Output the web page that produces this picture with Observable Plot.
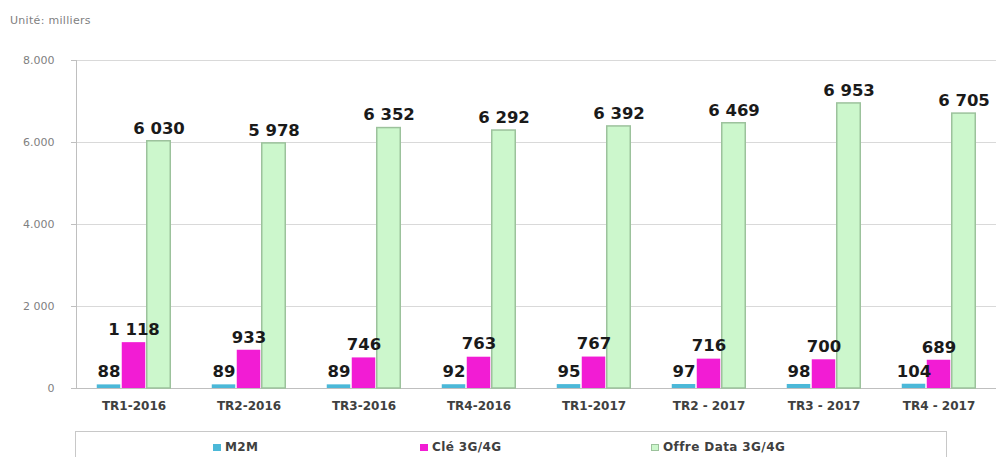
<!DOCTYPE html>
<html><head><meta charset="utf-8">
<script src="https://cdn.jsdelivr.net/npm/d3@7"></script>
<script src="https://cdn.jsdelivr.net/npm/@observablehq/plot@0.6"></script>
<style>
body{margin:0;background:#fff;font-family:"DejaVu Sans",Verdana,sans-serif;}
#title{height:40px;box-sizing:border-box;padding:14px 0 0 10px;font-size:11px;color:#7f7f7f;letter-spacing:0.3px;}
#chart svg{display:block;}
#legend{position:relative;margin:6px 0 0 75px;width:872px;height:40px;border:1px solid #c8c8c8;border-bottom:none;box-sizing:border-box;}
.item{position:absolute;top:8px;font-size:12px;font-weight:bold;color:#404040;display:flex;align-items:center;letter-spacing:0.4px;}
.sw{width:8px;height:7px;margin-right:4px;box-sizing:border-box;}
</style></head>
<body>
<div id="title">Unité: milliers</div>
<div id="chart"></div>
<div id="legend"></div>
<script>
const categories = ["TR1-2016","TR2-2016","TR3-2016","TR4-2016","TR1-2017","TR2 - 2017","TR3 - 2017","TR4 - 2017"];
const seriesNames = ["M2M","Clé 3G/4G","Offre Data 3G/4G"];
const m2m = [88,89,89,92,95,97,98,104];
const cle = [1118,933,746,763,767,716,700,689];
const offre = [6030,5978,6352,6292,6392,6469,6953,6705];
const yTicks = [0,2000,4000,6000,8000];
const yTickLabels = ["0","2 000","4.000","6.000","8.000"];
const fills = ["#4bb8d8","#f21cd4","#ccf7cc"];
const strokes = ["none","none","#9cc29c"];

const seriesValues = [m2m, cle, offre];
const rows = [];
seriesNames.forEach((s, i) => categories.forEach((c, j) => rows.push({cat: c, series: s, value: seriesValues[i][j]})));
const fmt = d3.formatLocale({thousands: " ", grouping: [3], decimal: ","}).format(",d");

const marks = [
  Plot.gridY(yTicks.filter(d => d > 0), {stroke: "#d9d9d9", strokeOpacity: 1}),
  Plot.ruleY([0], {stroke: "#bfbfbf"}),
  Plot.frame({anchor: "left", fx: [categories[0]], stroke: "#bfbfbf"}),
  ...seriesNames.map((s, i) => Plot.barY(rows.filter(r => r.series === s), {
    fx: "cat", x: "series", y: "value", fill: fills[i], stroke: strokes[i], strokeWidth: 1.5, insetLeft: 0.75, insetRight: 0.75
  })),
  Plot.text(rows, {fx: "cat", x: "series", y: "value", text: d => fmt(d.value), dy: -13,
    fontSize: 16.5, fontWeight: "bold", fill: "#1a1a1a", style: {letterSpacing: "0.6px"}}),
  Plot.axisY({ticks: yTicks, tickFormat: d => yTickLabels[yTicks.indexOf(d)], tickSize: 5, tickPadding: 17,
    stroke: "#bfbfbf", fill: "#7f7f7f", fontSize: 11, label: null}),
  Plot.axisFx({anchor: "bottom", tickSize: 0, tickPadding: 13, fontSize: 12, fontWeight: "bold", fill: "#404040", label: null})
];

const chart = Plot.plot({
  width: 999, height: 385,
  marginLeft: 72, marginRight: 0, marginTop: 20, marginBottom: 37,
  style: {fontFamily: "'DejaVu Sans', Verdana, sans-serif", background: "#fff"},
  fx: {domain: categories, padding: 0, label: null},
  x: {domain: seriesNames, paddingInner: 0, paddingOuter: 0.77, axis: null},
  y: {domain: [0, 8000], label: null},
  marks
});
document.getElementById("chart").appendChild(chart);

const legendPos = [137, 344, 575];
const legend = document.getElementById("legend");
seriesNames.forEach((s, i) => {
  const it = document.createElement("div");
  it.className = "item";
  it.style.left = legendPos[i] + "px";
  const sw = document.createElement("span");
  sw.className = "sw";
  sw.style.background = fills[i];
  if (strokes[i] !== "none") sw.style.border = "1px solid " + strokes[i];
  it.appendChild(sw);
  it.appendChild(document.createTextNode(s));
  legend.appendChild(it);
});
</script>
</body></html>
